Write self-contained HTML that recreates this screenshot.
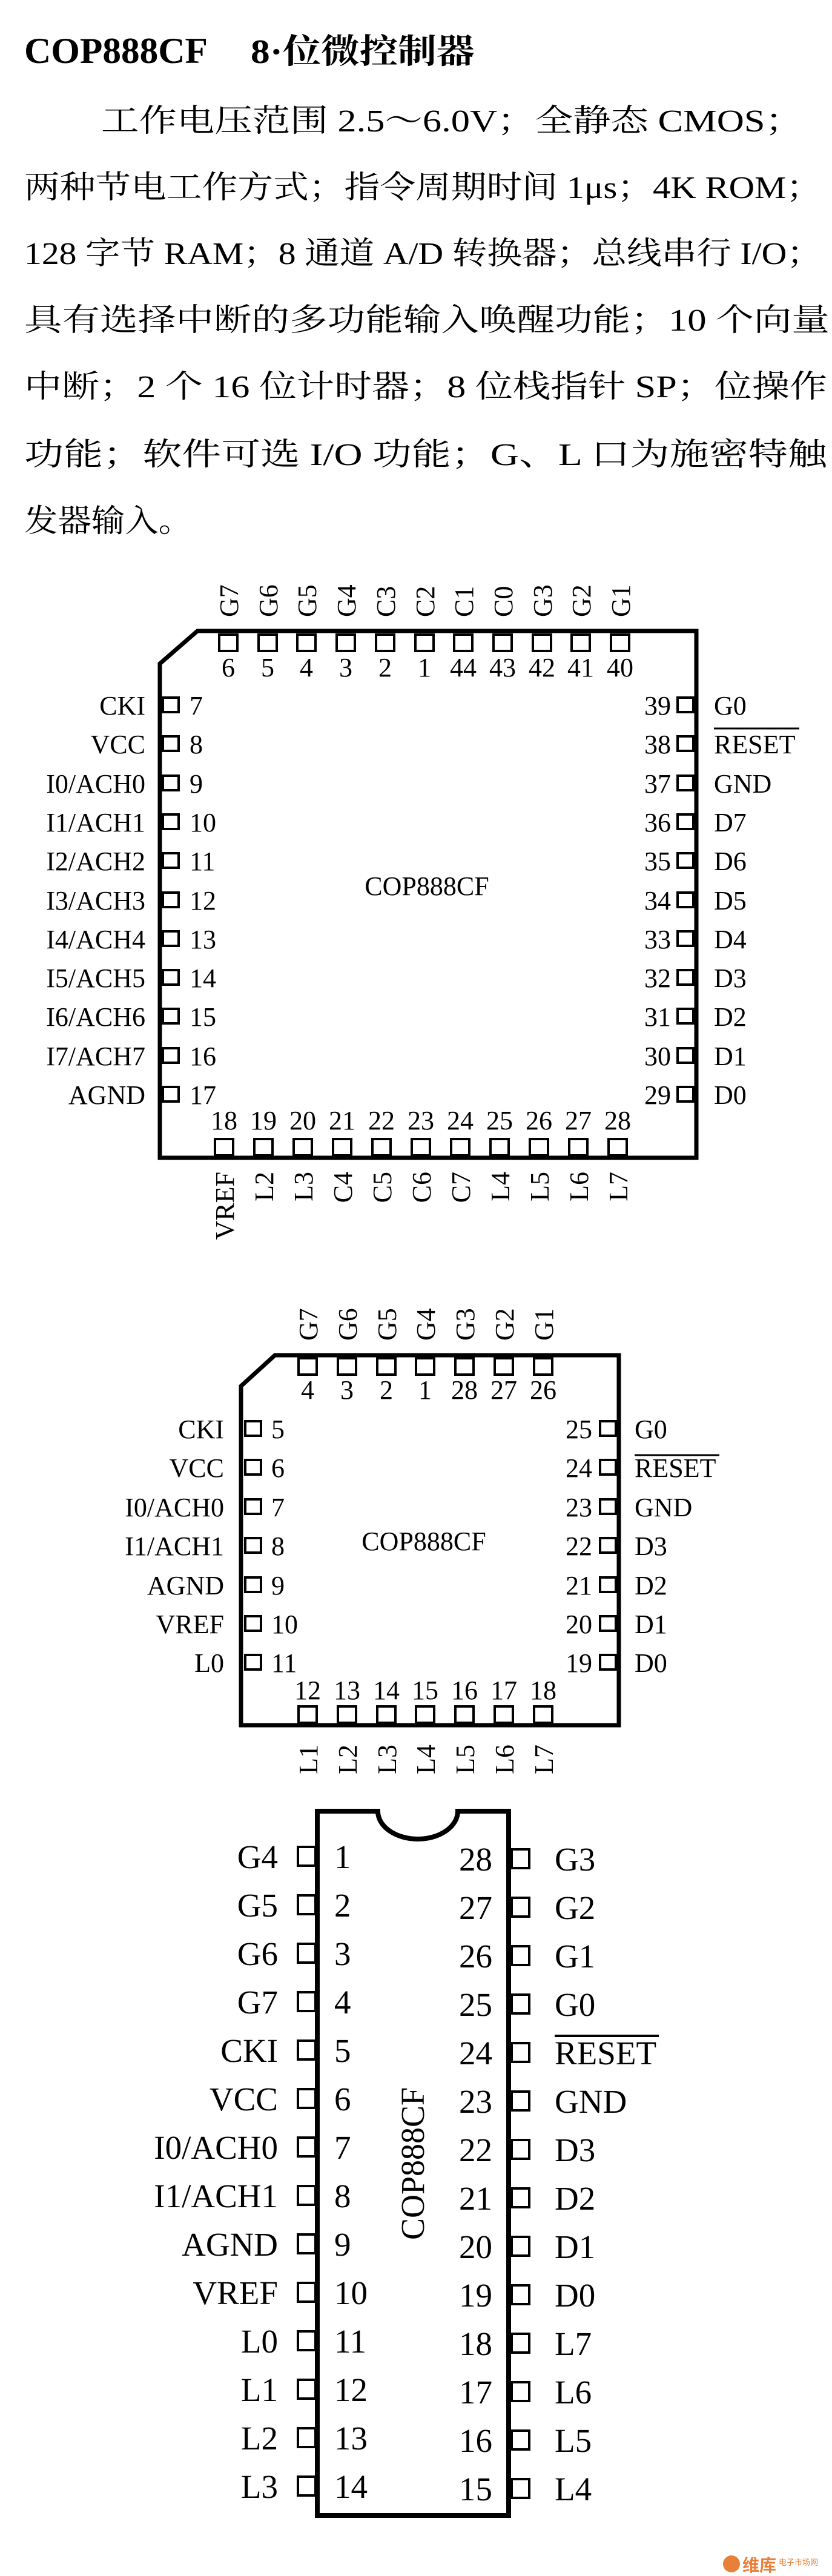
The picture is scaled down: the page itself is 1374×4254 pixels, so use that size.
<!DOCTYPE html>
<html><head><meta charset="utf-8"><style>html,body{margin:0;padding:0;background:#fff}svg{display:block}</style></head>
<body>
<svg xmlns="http://www.w3.org/2000/svg" width="1374" height="4254" viewBox="0 0 1374 4254" font-family="'Liberation Serif','Noto Serif CJK SC',serif" fill="#000">
<rect width="1374" height="4254" fill="#fff"/>
<!-- Title -->
<text x="40" y="104" font-size="60" font-weight="bold" textLength="303" lengthAdjust="spacingAndGlyphs">COP888CF</text>
<text x="414" y="104" font-size="56" font-weight="bold" textLength="370" lengthAdjust="spacingAndGlyphs">8·位微控制器</text>
<!-- Body -->
<g font-size="52">
<text x="167" y="217" textLength="1159" lengthAdjust="spacingAndGlyphs">工作电压范围 2.5～6.0V；全静态 CMOS；</text>
<text x="40" y="327" textLength="1317" lengthAdjust="spacingAndGlyphs">两种节电工作方式；指令周期时间 1μs；4K ROM；</text>
<text x="40" y="436" textLength="1317" lengthAdjust="spacingAndGlyphs">128 字节 RAM；8 通道 A/D 转换器；总线串行 I/O；</text>
<text x="40" y="546" textLength="1330" lengthAdjust="spacingAndGlyphs">具有选择中断的多功能输入唤醒功能；10 个向量</text>
<text x="40" y="656" textLength="1326" lengthAdjust="spacingAndGlyphs">中断；2 个 16 位计时器；8 位栈指针 SP；位操作</text>
<text x="40" y="768" textLength="1326" lengthAdjust="spacingAndGlyphs">功能；软件可选 I/O 功能；G、L 口为施密特触</text>
<text x="40" y="878" textLength="277" lengthAdjust="spacingAndGlyphs">发器输入。</text>
</g>

<!-- CHIP 1 -->
<g fill="none" stroke="#000">
<path d="M326 1042 L1150 1042 L1150 1912 L264 1912 L264 1096 Z" stroke-width="7"/>
<g stroke-width="4">
<rect x="362" y="1048" width="30" height="27"/><rect x="427" y="1048" width="30" height="27"/><rect x="491" y="1048" width="30" height="27"/><rect x="556" y="1048" width="30" height="27"/><rect x="621" y="1048" width="30" height="27"/><rect x="686" y="1048" width="30" height="27"/><rect x="750" y="1048" width="30" height="27"/><rect x="815" y="1048" width="30" height="27"/><rect x="880" y="1048" width="30" height="27"/><rect x="944" y="1048" width="30" height="27"/><rect x="1009" y="1048" width="30" height="27"/>
<rect x="355" y="1881" width="30" height="27"/><rect x="420" y="1881" width="30" height="27"/><rect x="485" y="1881" width="30" height="27"/><rect x="550" y="1881" width="30" height="27"/><rect x="615" y="1881" width="30" height="27"/><rect x="680" y="1881" width="30" height="27"/><rect x="745" y="1881" width="30" height="27"/><rect x="810" y="1881" width="30" height="27"/><rect x="875" y="1881" width="30" height="27"/><rect x="940" y="1881" width="30" height="27"/><rect x="1005" y="1881" width="30" height="27"/>
<rect x="269" y="1152" width="26" height="24"/><rect x="269" y="1216" width="26" height="24"/><rect x="269" y="1281" width="26" height="24"/><rect x="269" y="1345" width="26" height="24"/><rect x="269" y="1409" width="26" height="24"/><rect x="269" y="1474" width="26" height="24"/><rect x="269" y="1538" width="26" height="24"/><rect x="269" y="1602" width="26" height="24"/><rect x="269" y="1666" width="26" height="24"/><rect x="269" y="1731" width="26" height="24"/><rect x="269" y="1795" width="26" height="24"/>
<rect x="1119" y="1152" width="26" height="24"/><rect x="1119" y="1216" width="26" height="24"/><rect x="1119" y="1281" width="26" height="24"/><rect x="1119" y="1345" width="26" height="24"/><rect x="1119" y="1409" width="26" height="24"/><rect x="1119" y="1474" width="26" height="24"/><rect x="1119" y="1538" width="26" height="24"/><rect x="1119" y="1602" width="26" height="24"/><rect x="1119" y="1666" width="26" height="24"/><rect x="1119" y="1731" width="26" height="24"/><rect x="1119" y="1795" width="26" height="24"/>
</g></g>
<g font-size="44">
<g text-anchor="middle">
<text x="377" y="1117">6</text><text x="442" y="1117">5</text><text x="506" y="1117">4</text><text x="571" y="1117">3</text><text x="636" y="1117">2</text><text x="701" y="1117">1</text><text x="765" y="1117">44</text><text x="830" y="1117">43</text><text x="895" y="1117">42</text><text x="959" y="1117">41</text><text x="1024" y="1117">40</text>
<text x="370" y="1865">18</text><text x="435" y="1865">19</text><text x="500" y="1865">20</text><text x="565" y="1865">21</text><text x="630" y="1865">22</text><text x="695" y="1865">23</text><text x="760" y="1865">24</text><text x="825" y="1865">25</text><text x="890" y="1865">26</text><text x="955" y="1865">27</text><text x="1020" y="1865">28</text>
<text x="705" y="1478">COP888CF</text>
</g>
<text transform="translate(393,1019) rotate(-90)">G7</text><text transform="translate(458,1019) rotate(-90)">G6</text><text transform="translate(522,1019) rotate(-90)">G5</text><text transform="translate(587,1019) rotate(-90)">G4</text><text transform="translate(652,1019) rotate(-90)">C3</text><text transform="translate(717,1019) rotate(-90)">C2</text><text transform="translate(781,1019) rotate(-90)">C1</text><text transform="translate(846,1019) rotate(-90)">C0</text><text transform="translate(911,1019) rotate(-90)">G3</text><text transform="translate(975,1019) rotate(-90)">G2</text><text transform="translate(1040,1019) rotate(-90)">G1</text>
<g text-anchor="end">
<text transform="translate(386,1935) rotate(-90)">VREF</text><text transform="translate(451,1935) rotate(-90)">L2</text><text transform="translate(516,1935) rotate(-90)">L3</text><text transform="translate(581,1935) rotate(-90)">C4</text><text transform="translate(646,1935) rotate(-90)">C5</text><text transform="translate(711,1935) rotate(-90)">C6</text><text transform="translate(776,1935) rotate(-90)">C7</text><text transform="translate(841,1935) rotate(-90)">L4</text><text transform="translate(906,1935) rotate(-90)">L5</text><text transform="translate(971,1935) rotate(-90)">L6</text><text transform="translate(1036,1935) rotate(-90)">L7</text>
<text x="240" y="1180">CKI</text><text x="240" y="1244">VCC</text><text x="240" y="1309">I0/ACH0</text><text x="240" y="1373">I1/ACH1</text><text x="240" y="1437">I2/ACH2</text><text x="240" y="1502">I3/ACH3</text><text x="240" y="1566">I4/ACH4</text><text x="240" y="1630">I5/ACH5</text><text x="240" y="1694">I6/ACH6</text><text x="240" y="1759">I7/ACH7</text><text x="240" y="1823">AGND</text>
<text x="1108" y="1180">39</text><text x="1108" y="1244">38</text><text x="1108" y="1309">37</text><text x="1108" y="1373">36</text><text x="1108" y="1437">35</text><text x="1108" y="1502">34</text><text x="1108" y="1566">33</text><text x="1108" y="1630">32</text><text x="1108" y="1694">31</text><text x="1108" y="1759">30</text><text x="1108" y="1823">29</text>
</g>
<text x="313" y="1180">7</text><text x="313" y="1244">8</text><text x="313" y="1309">9</text><text x="313" y="1373">10</text><text x="313" y="1437">11</text><text x="313" y="1502">12</text><text x="313" y="1566">13</text><text x="313" y="1630">14</text><text x="313" y="1694">15</text><text x="313" y="1759">16</text><text x="313" y="1823">17</text>
<text x="1179" y="1180">G0</text><text x="1179" y="1244">RESET</text><text x="1179" y="1309">GND</text><text x="1179" y="1373">D7</text><text x="1179" y="1437">D6</text><text x="1179" y="1502">D5</text><text x="1179" y="1566">D4</text><text x="1179" y="1630">D3</text><text x="1179" y="1694">D2</text><text x="1179" y="1759">D1</text><text x="1179" y="1823">D0</text>
</g>
<line x1="1179" y1="1203" x2="1320" y2="1203" stroke="#000" stroke-width="3"/>

<!-- CHIP 2 -->
<g fill="none" stroke="#000">
<path d="M454 2238 L1022 2238 L1022 2849 L398 2849 L398 2289 Z" stroke-width="7"/>
<g stroke-width="4">
<rect x="493" y="2243" width="30" height="27"/><rect x="558" y="2243" width="30" height="27"/><rect x="623" y="2243" width="30" height="27"/><rect x="687" y="2243" width="30" height="27"/><rect x="752" y="2243" width="30" height="27"/><rect x="817" y="2243" width="30" height="27"/><rect x="882" y="2243" width="30" height="27"/>
<rect x="493" y="2818" width="30" height="27"/><rect x="558" y="2818" width="30" height="27"/><rect x="623" y="2818" width="30" height="27"/><rect x="687" y="2818" width="30" height="27"/><rect x="752" y="2818" width="30" height="27"/><rect x="817" y="2818" width="30" height="27"/><rect x="882" y="2818" width="30" height="27"/>
<rect x="405" y="2347" width="26" height="24"/><rect x="405" y="2411" width="26" height="24"/><rect x="405" y="2476" width="26" height="24"/><rect x="405" y="2540" width="26" height="24"/><rect x="405" y="2605" width="26" height="24"/><rect x="405" y="2669" width="26" height="24"/><rect x="405" y="2733" width="26" height="24"/>
<rect x="991" y="2347" width="26" height="24"/><rect x="991" y="2411" width="26" height="24"/><rect x="991" y="2476" width="26" height="24"/><rect x="991" y="2540" width="26" height="24"/><rect x="991" y="2605" width="26" height="24"/><rect x="991" y="2669" width="26" height="24"/><rect x="991" y="2733" width="26" height="24"/>
</g></g>
<g font-size="44">
<g text-anchor="middle">
<text x="508" y="2310">4</text><text x="573" y="2310">3</text><text x="638" y="2310">2</text><text x="702" y="2310">1</text><text x="767" y="2310">28</text><text x="832" y="2310">27</text><text x="897" y="2310">26</text>
<text x="508" y="2806">12</text><text x="573" y="2806">13</text><text x="638" y="2806">14</text><text x="702" y="2806">15</text><text x="767" y="2806">16</text><text x="832" y="2806">17</text><text x="897" y="2806">18</text>
<text x="700" y="2560">COP888CF</text>
</g>
<text transform="translate(524,2214) rotate(-90)">G7</text><text transform="translate(589,2214) rotate(-90)">G6</text><text transform="translate(654,2214) rotate(-90)">G5</text><text transform="translate(718,2214) rotate(-90)">G4</text><text transform="translate(783,2214) rotate(-90)">G3</text><text transform="translate(848,2214) rotate(-90)">G2</text><text transform="translate(913,2214) rotate(-90)">G1</text>
<g text-anchor="end">
<text transform="translate(524,2881) rotate(-90)">L1</text><text transform="translate(589,2881) rotate(-90)">L2</text><text transform="translate(654,2881) rotate(-90)">L3</text><text transform="translate(718,2881) rotate(-90)">L4</text><text transform="translate(783,2881) rotate(-90)">L5</text><text transform="translate(848,2881) rotate(-90)">L6</text><text transform="translate(913,2881) rotate(-90)">L7</text>
<text x="370" y="2375">CKI</text><text x="370" y="2439">VCC</text><text x="370" y="2504">I0/ACH0</text><text x="370" y="2568">I1/ACH1</text><text x="370" y="2633">AGND</text><text x="370" y="2697">VREF</text><text x="370" y="2761">L0</text>
<text x="978" y="2375">25</text><text x="978" y="2439">24</text><text x="978" y="2504">23</text><text x="978" y="2568">22</text><text x="978" y="2633">21</text><text x="978" y="2697">20</text><text x="978" y="2761">19</text>
</g>
<text x="448" y="2375">5</text><text x="448" y="2439">6</text><text x="448" y="2504">7</text><text x="448" y="2568">8</text><text x="448" y="2633">9</text><text x="448" y="2697">10</text><text x="448" y="2761">11</text>
<text x="1048" y="2375">G0</text><text x="1048" y="2439">RESET</text><text x="1048" y="2504">GND</text><text x="1048" y="2568">D3</text><text x="1048" y="2633">D2</text><text x="1048" y="2697">D1</text><text x="1048" y="2761">D0</text>
</g>
<line x1="1048" y1="2403" x2="1188" y2="2403" stroke="#000" stroke-width="3"/>

<!-- CHIP 3 -->
<g fill="none" stroke="#000">
<path d="M524 2991 L624 2991 A66 46 0 0 0 756 2991 L840 2991 L840 4154 L524 4154 Z" stroke-width="8"/>
<g stroke-width="4">
<rect x="492" y="3050" width="29" height="31"/><rect x="492" y="3130" width="29" height="31"/><rect x="492" y="3210" width="29" height="31"/><rect x="492" y="3290" width="29" height="31"/><rect x="492" y="3370" width="29" height="31"/><rect x="492" y="3450" width="29" height="31"/><rect x="492" y="3530" width="29" height="31"/><rect x="492" y="3610" width="29" height="31"/><rect x="492" y="3690" width="29" height="31"/><rect x="492" y="3770" width="29" height="31"/><rect x="492" y="3850" width="29" height="31"/><rect x="492" y="3930" width="29" height="31"/><rect x="492" y="4010" width="29" height="31"/><rect x="492" y="4090" width="29" height="31"/>
<rect x="845" y="3054" width="29" height="31"/><rect x="845" y="3134" width="29" height="31"/><rect x="845" y="3214" width="29" height="31"/><rect x="845" y="3294" width="29" height="31"/><rect x="845" y="3374" width="29" height="31"/><rect x="845" y="3454" width="29" height="31"/><rect x="845" y="3534" width="29" height="31"/><rect x="845" y="3614" width="29" height="31"/><rect x="845" y="3694" width="29" height="31"/><rect x="845" y="3774" width="29" height="31"/><rect x="845" y="3854" width="29" height="31"/><rect x="845" y="3934" width="29" height="31"/><rect x="845" y="4014" width="29" height="31"/><rect x="845" y="4094" width="29" height="31"/>
</g></g>
<g font-size="55">
<text transform="translate(700,3573) rotate(-90)" text-anchor="middle" textLength="252" lengthAdjust="spacingAndGlyphs">COP888CF</text>
<g text-anchor="end">
<text x="459" y="3085">G4</text><text x="459" y="3165">G5</text><text x="459" y="3245">G6</text><text x="459" y="3325">G7</text><text x="459" y="3405">CKI</text><text x="459" y="3485">VCC</text><text x="459" y="3565">I0/ACH0</text><text x="459" y="3645">I1/ACH1</text><text x="459" y="3725">AGND</text><text x="459" y="3805">VREF</text><text x="459" y="3885">L0</text><text x="459" y="3965">L1</text><text x="459" y="4045">L2</text><text x="459" y="4125">L3</text>
<text x="813" y="3089">28</text><text x="813" y="3169">27</text><text x="813" y="3249">26</text><text x="813" y="3329">25</text><text x="813" y="3409">24</text><text x="813" y="3489">23</text><text x="813" y="3569">22</text><text x="813" y="3649">21</text><text x="813" y="3729">20</text><text x="813" y="3809">19</text><text x="813" y="3889">18</text><text x="813" y="3969">17</text><text x="813" y="4049">16</text><text x="813" y="4129">15</text>
</g>
<text x="552" y="3085">1</text><text x="552" y="3165">2</text><text x="552" y="3245">3</text><text x="552" y="3325">4</text><text x="552" y="3405">5</text><text x="552" y="3485">6</text><text x="552" y="3565">7</text><text x="552" y="3645">8</text><text x="552" y="3725">9</text><text x="552" y="3805">10</text><text x="552" y="3885">11</text><text x="552" y="3965">12</text><text x="552" y="4045">13</text><text x="552" y="4125">14</text>
<text x="916" y="3089">G3</text><text x="916" y="3169">G2</text><text x="916" y="3249">G1</text><text x="916" y="3329">G0</text><text x="916" y="3409">RESET</text><text x="916" y="3489">GND</text><text x="916" y="3569">D3</text><text x="916" y="3649">D2</text><text x="916" y="3729">D1</text><text x="916" y="3809">D0</text><text x="916" y="3889">L7</text><text x="916" y="3969">L6</text><text x="916" y="4049">L5</text><text x="916" y="4129">L4</text>
</g>
<line x1="916" y1="3362" x2="1088" y2="3362" stroke="#000" stroke-width="4"/>

<!-- watermark -->
<circle cx="1208" cy="4234" r="14" fill="#e8803a"/>
<text x="1226" y="4246" font-size="28" font-weight="bold" fill="#e8803a" font-family="'Noto Sans CJK SC',sans-serif">维库</text>
<text x="1286" y="4236" font-size="13" fill="#e8803a" font-family="'Noto Sans CJK SC',sans-serif">电子市场网</text>
</svg>
</body></html>
